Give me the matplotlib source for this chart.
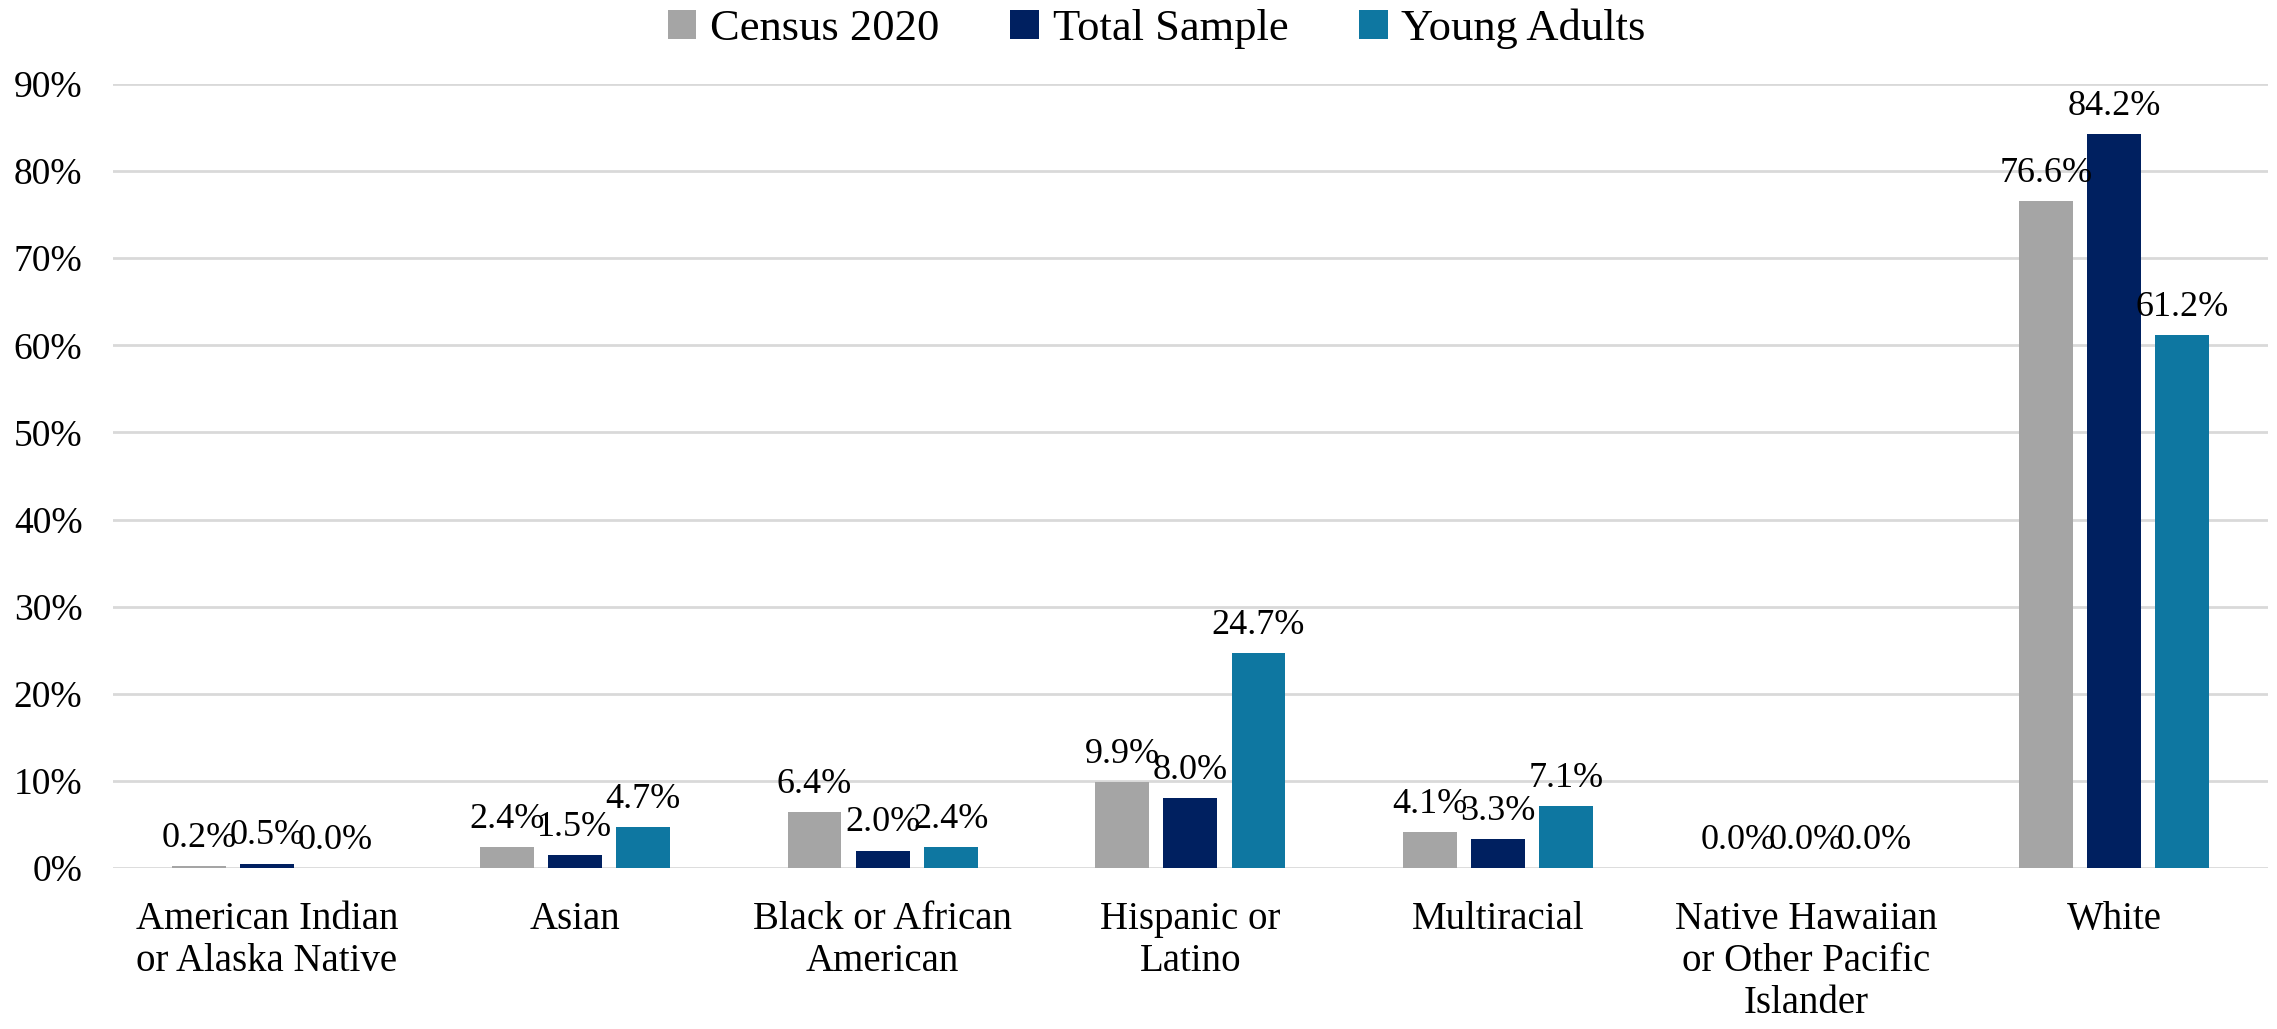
import matplotlib.pyplot as plt
import numpy as np

plt.rcParams['font.family'] = ['Liberation Serif', 'DejaVu Serif']

categories = ["American Indian\nor Alaska Native", "Asian", "Black or African\nAmerican",
              "Hispanic or\nLatino", "Multiracial", "Native Hawaiian\nor Other Pacific\nIslander", "White"]
series_names = ["Census 2020", "Total Sample", "Young Adults"]
census_2020 = [0.2, 2.4, 6.4, 9.9, 4.1, 0.0, 76.6]
total_sample = [0.5, 1.5, 2.0, 8.0, 3.3, 0.0, 84.2]
young_adults = [0.0, 4.7, 2.4, 24.7, 7.1, 0.0, 61.2]
colors = ["#A5A5A5", "#002060", "#0E77A1"]
yticks = [0, 10, 20, 30, 40, 50, 60, 70, 80, 90]

fig = plt.figure(figsize=(22.77, 10.29), dpi=100)
ax = fig.add_axes([0.0496, 0.1565, 0.9464, 0.7619])

x = np.arange(len(categories))
width = 0.175
step = 0.221
for i, (vals, name, col) in enumerate(zip([census_2020, total_sample, young_adults], series_names, colors)):
    pos = x + (i - 1) * step
    ax.bar(pos, vals, width, color=col, label=name, zorder=3)
    # value labels above each bar
    for xp, v in zip(pos, vals):
        ax.annotate(f"{v:.1f}%", (xp, v), xytext=(0, 8), textcoords="offset points",
                    ha="center", va="bottom", fontsize=26, color="#000000", zorder=4)

ax.set_xlim(-0.5, len(categories) - 0.5)
ax.set_ylim(0, 90)
ax.set_yticks(yticks)
ax.set_yticklabels([f"{t}%" for t in yticks], fontsize=27)
ax.set_xticks(x)
ax.set_xticklabels(categories, fontsize=28, linespacing=1.18)
ax.tick_params(axis="x", length=0, pad=24)
ax.tick_params(axis="y", length=0, pad=22)
ax.grid(axis="y", color="#D9D9D9", linewidth=2, zorder=0)
for s in ax.spines.values():
    s.set_visible(False)

ax.legend(loc="center", bbox_to_anchor=(0.508, 0.972), bbox_transform=fig.transFigure,
          ncol=3, frameon=False, fontsize=32, handlelength=0.65, handleheight=0.65,
          handletextpad=0.3, columnspacing=1.6)

fig.savefig("out.png", dpi=100)
